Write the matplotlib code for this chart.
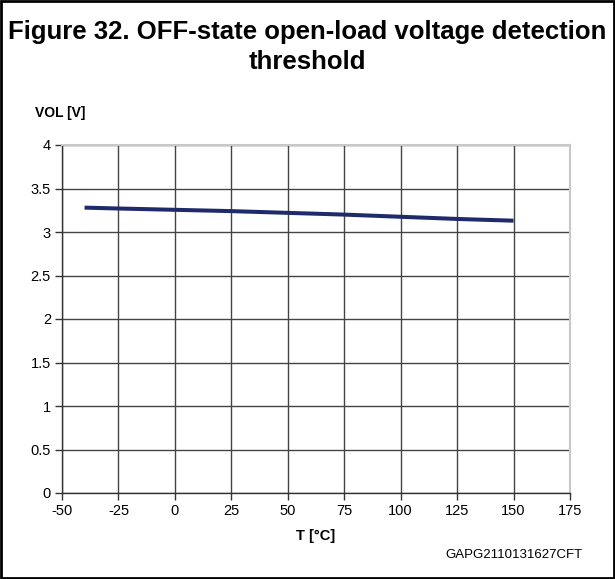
import matplotlib
matplotlib.use("Agg")
import matplotlib.pyplot as plt
from matplotlib.patches import Rectangle

plt.rcParams['font.family'] = ['Liberation Sans', 'DejaVu Sans']

temperature = [-40, -25, 0, 25, 50, 75, 100, 125, 150]
vol = [3.28, 3.27, 3.255, 3.24, 3.22, 3.20, 3.175, 3.15, 3.13]
x_ticks = [-50, -25, 0, 25, 50, 75, 100, 125, 150, 175]
y_ticks = [0, 0.5, 1, 1.5, 2, 2.5, 3, 3.5, 4]
y_tick_labels = ['0', '0.5', '1', '1.5', '2', '2.5', '3', '3.5', '4']

W, H = 615, 579
fig = plt.figure(figsize=(W / 100, H / 100), dpi=100)
ax = fig.add_axes([62 / W, 1 - 493 / H, (570 - 62) / W, (493 - 145) / H])

ax.plot(temperature, vol, color='#1F2A6B', linewidth=2.9, solid_capstyle='butt', zorder=3)

ax.set_xlim(-50, 175)
ax.set_ylim(0, 4)
ax.set_xticks(x_ticks)
ax.set_xticklabels([str(v) for v in x_ticks])
ax.set_yticks(y_ticks)
ax.set_yticklabels(y_tick_labels)
ax.grid(True, color='#444444', linewidth=1.0)
ax.set_axisbelow(True)
for side in ['top', 'right']:
    ax.spines[side].set_color('#c8c8c8')
    ax.spines[side].set_linewidth(1.5)
for side in ['left', 'bottom']:
    ax.spines[side].set_color('#333333')
    ax.spines[side].set_linewidth(1.0)
ax.tick_params(axis='both', direction='out', length=5, width=1, colors='#333333',
               labelsize=10.5, labelcolor='black', pad=3)

ax.set_xlabel('T [°C]', fontsize=10.5, fontweight='bold', labelpad=8)

fig.text(35 / W, 1 - 113 / H, 'VOL [V]', fontsize=10, fontweight='bold', ha='left', va='center')
fig.text(0.5, 1 - 47 / H, 'Figure 32. OFF-state open-load voltage detection\nthreshold',
         fontsize=18.5, fontweight='bold', ha='center', va='center', linespacing=1.3)
fig.text(583 / W, 1 - 555 / H, 'GAPG2110131627CFT', fontsize=9.5, ha='right', va='center')

fig.patches.append(Rectangle((0.002, 0.002), 0.996, 0.996, transform=fig.transFigure,
                             fill=False, edgecolor='black', linewidth=2))

fig.savefig('out.png', dpi=100)
